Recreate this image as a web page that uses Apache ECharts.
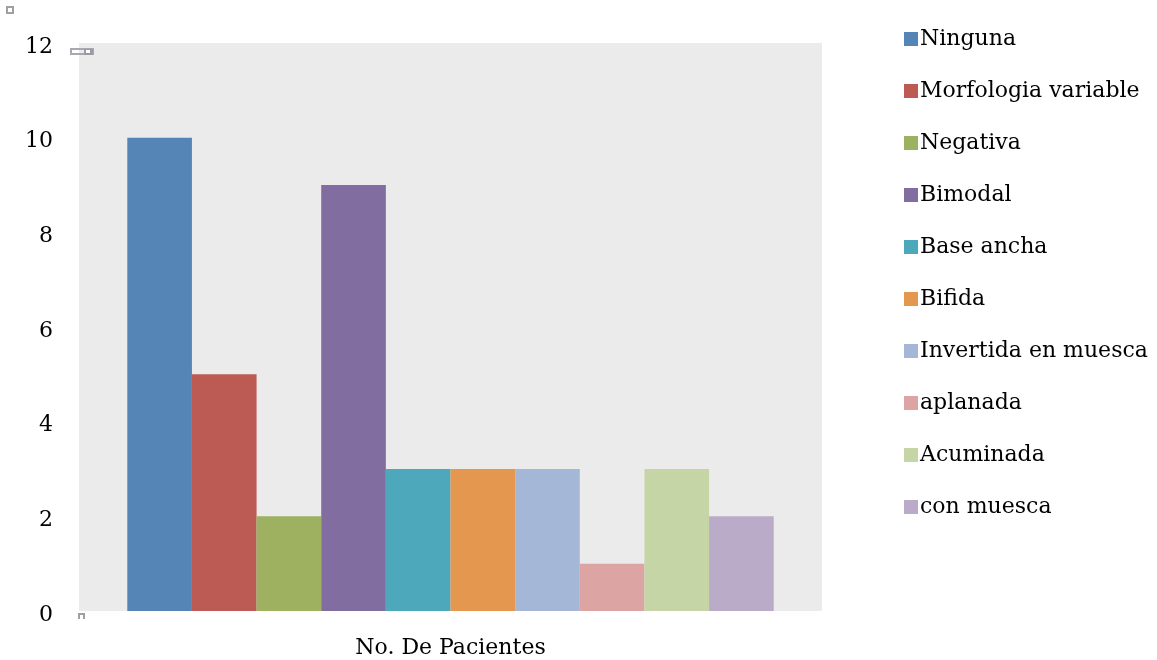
<!DOCTYPE html>
<html>
<head>
<meta charset="utf-8">
<script src="https://cdn.jsdelivr.net/npm/echarts@6/dist/echarts.min.js"></script>
<style>
  html, body { margin: 0; padding: 0; background: #fff; }
  #chart { width: 1157px; height: 660px; }
</style>
</head>
<body>
<div id="chart"></div>
<script>
// Categories and values
const categories = ['No. De Pacientes'];
const seriesNames = ['Ninguna', 'Morfologia variable', 'Negativa', 'Bimodal', 'Base ancha',
  'Bifida', 'Invertida en muesca', 'aplanada', 'Acuminada', 'con muesca'];
const seriesValues = [10, 5, 2, 9, 3, 3, 3, 1, 3, 2];
const yTicks = [0, 2, 4, 6, 8, 10, 12];
const palette = ['#5585B7', '#BB5B53', '#9DB160', '#826DA0', '#4EA8BB',
  '#E4974F', '#A4B7D7', '#DCA5A4', '#C5D5A6', '#BAABC8'];

const font = '"DejaVu Serif", "Liberation Serif", serif';

const chart = echarts.init(document.getElementById('chart'), null, { renderer: 'canvas' });

// small grey selection handles around the chart object
const handleStyle = { fill: 'none', stroke: '#a0a0a0', lineWidth: 2 };

chart.setOption({
  animation: false,
  backgroundColor: '#ffffff',
  color: palette,
  textStyle: { fontFamily: font },
  grid: { left: 79, right: 335, top: 43, bottom: 49, show: true, backgroundColor: '#EBEBEB', borderWidth: 0 },
  graphic: [
    { type: 'rect', shape: { x: 7, y: 7, width: 6, height: 6 }, style: handleStyle, silent: true },
    { type: 'rect', shape: { x: 71, y: 49, width: 22, height: 5 }, style: { fill: 'none', stroke: '#a8a8b0', lineWidth: 2 }, silent: true },
    { type: 'rect', shape: { x: 84, y: 49, width: 9, height: 6 }, style: { fill: '#9c98a8' }, silent: true },
    { type: 'rect', shape: { x: 86, y: 50, width: 4, height: 3 }, style: { fill: '#ffffff' }, silent: true },
    { type: 'polyline', shape: { points: [[79, 619], [79, 614], [84, 614], [84, 619]] }, style: handleStyle, silent: true }
  ],
  legend: {
    orient: 'vertical',
    left: 899,
    top: 21,
    itemWidth: 14,
    itemHeight: 14,
    itemGap: 26,
    icon: 'rect',
    data: seriesNames,
    textStyle: { fontFamily: font, fontSize: 22, color: '#000', lineHeight: 26, padding: [0, 0, 0, -3] }
  },
  xAxis: {
    type: 'category',
    data: categories,
    axisLine: { show: false },
    axisTick: { show: false },
    axisLabel: { fontFamily: font, fontSize: 22, color: '#000', margin: 26 }
  },
  yAxis: {
    type: 'value',
    min: yTicks[0],
    max: yTicks[yTicks.length - 1],
    interval: 2,
    splitLine: { show: false },
    axisLine: { show: false },
    axisTick: { show: false },
    axisLabel: {
      margin: 26,
      formatter: v => '{v|' + v + '}',
      rich: { v: { fontFamily: font, fontSize: 22, color: '#000', padding: [8, 0, 0, 0] } }
    }
  },
  series: seriesNames.map((name, i) => ({
    name: name,
    type: 'bar',
    data: [seriesValues[i]],
    barGap: '0%',
    barCategoryGap: '13%',
    itemStyle: { color: palette[i] }
  }))
});
</script>
</body>
</html>
